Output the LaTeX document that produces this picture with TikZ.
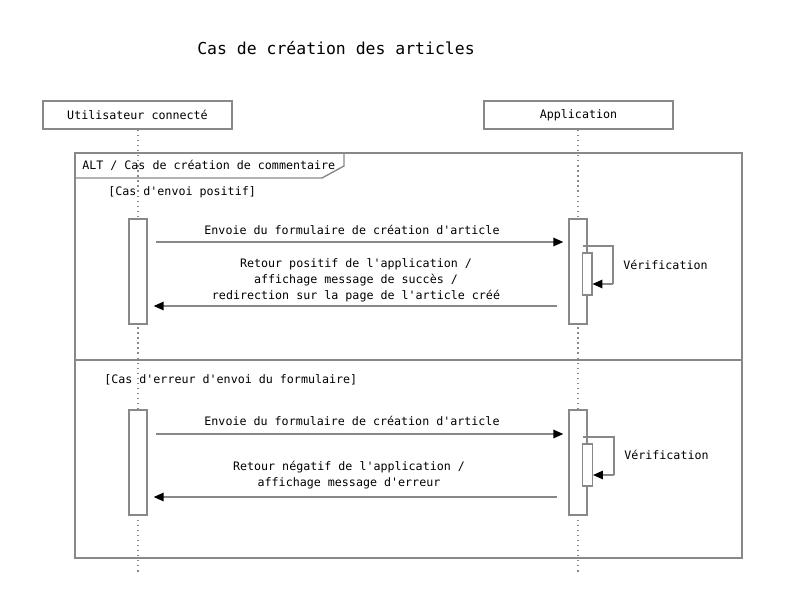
\documentclass[tikz,border=0pt]{standalone}
\usepackage{fontspec}
\setmainfont[Ligatures=TeXOff]{DejaVu Sans Mono}
\usetikzlibrary{arrows.meta}

\definecolor{linegray}{HTML}{888888}

\tikzset{
    actor/.style={draw=linegray, line width=1pt, fill=white, minimum width=4.725cm, minimum height=0.7cm, font=\fontsize{8.3}{10}\selectfont},
    lifeline/.style={linegray, line width=0.8pt, dash pattern=on 1pt off 2.6pt},
    activation/.style={draw=linegray, line width=1pt, fill=white, minimum width=0.45cm, minimum height=2.625cm, inner sep=0pt},
    nested/.style={draw=linegray, line width=1pt, fill=white, minimum width=0.24cm, minimum height=1.05cm, inner sep=0pt},
    msg/.style={linegray, line width=1pt, -{Triangle[length=7pt, width=6pt, color=black]}},
    txt/.style={font=\fontsize{8.3}{11.4}\selectfont, inner sep=0pt, align=center},
}

\begin{document}
\begin{tikzpicture}[x=0.025cm, y=-0.025cm]
        \useasboundingbox (0,0) rectangle (793,604);

        % titre
        \node[font=\fontsize{11.7}{14}\selectfont, inner sep=0pt] (title) at (336,48) {Cas de création des articles};

        % participants
        \node[actor] (user) at (137.5,115) {Utilisateur connecté};
        \node[actor] (app) at (578.5,115) {Application};
        \coordinate (userend) at (138,575);
        \coordinate (append) at (578,575);
        \draw[lifeline] (user.south -| userend) -- (userend);
        \draw[lifeline] (app.south -| append) -- (append);

        % cadre alt
        \draw[linegray, line width=1pt] (75,153) rectangle (742,558);
        \draw[linegray, line width=1pt] (75,178) -- (322,178) -- (344,166) -- (344,153);
        \draw[linegray, line width=1pt] (75,360) -- (742,360);
        \node[txt, anchor=west] (altlbl) at (82,165.5) {ALT / Cas de création de commentaire};
        \node[txt, anchor=west] (guard1) at (108,192) {[Cas d'envoi positif]};
        \node[txt, anchor=west] (guard2) at (104,380) {[Cas d'erreur d'envoi du formulaire]};

        % cas positif
        \node[activation] (user1) at (138,271.5) {};
        \node[activation] (app1) at (578,271.5) {};
        \node[nested] (check1) at (587,274) {};
        \draw[msg, shorten <=8*0.025cm, shorten >=5*0.025cm] (user1.east |- 0,242) -- (app1.west |- 0,242);
        \node[txt] (send1) at (352,230) {Envoie du formulaire de création d'article};
        \draw[linegray, line width=1pt] (583,246) -| (613,284) coordinate (loop1);
        \draw[msg] (loop1) -- (check1.east |- loop1);
        \node[txt, anchor=west] (verif1) at (623,265) {Vérification};
        \draw[msg, shorten <=11*0.025cm, shorten >=6*0.025cm] (app1.west |- 0,306) -- (user1.east |- 0,306);
        \node[txt] (back1) at (356,280) {Retour positif de l'application /\\affichage message de succès /\\redirection sur la page de l'article créé};

        % cas erreur
        \node[activation] (user2) at (138,462.5) {};
        \node[activation] (app2) at (578,462.5) {};
        \node[nested] (check2) at (587.5,465) {};
        \draw[msg, shorten <=8*0.025cm, shorten >=5*0.025cm] (user2.east |- 0,434) -- (app2.west |- 0,434);
        \node[txt] (send2) at (352,421) {Envoie du formulaire de création d'article};
        \draw[linegray, line width=1pt] (583,437) -| (614,475) coordinate (loop2);
        \draw[msg] (loop2) -- (check2.east |- loop2);
        \node[txt, anchor=west] (verif2) at (624,455) {Vérification};
        \draw[msg, shorten <=11*0.025cm, shorten >=6*0.025cm] (app2.west |- 0,497) -- (user2.east |- 0,497);
        \node[txt] (back2) at (349,475) {Retour négatif de l'application /\\affichage message d'erreur};
    \end{tikzpicture}
\end{document}
